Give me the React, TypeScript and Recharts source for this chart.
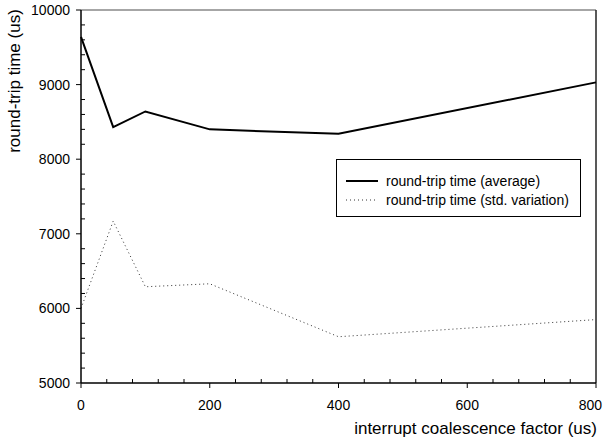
import { Legend, Line, LineChart, ReferenceLine, XAxis, YAxis } from "recharts"

// interrupt coalescence factor (us)
const factors = [0, 50, 100, 200, 400, 800]
// round-trip time (us)
const avgTime = [9640, 8430, 8640, 8400, 8340, 9030]
const stdTime = [6000, 7170, 6290, 6330, 5620, 5850]

const xTicks = [0, 40, 80, 120, 160, 200, 240, 280, 320, 360, 400, 440, 480, 520, 560, 600, 640, 680, 720, 760, 800]
const yTicks = [
  5000, 5200, 5400, 5600, 5800, 6000, 6200, 6400, 6600, 6800, 7000, 7200, 7400, 7600, 7800, 8000, 8200, 8400, 8600,
  8800, 9000, 9200, 9400, 9600, 9800, 10000,
]

const data = factors.map((f, i) => ({ factor: f, avg: avgTime[i], std: stdTime[i] }))

const FONT = "'Liberation Sans', Arial, sans-serif"

const XTick = (props: any) => {
  const { x, y, payload } = props
  const major = payload.value % 200 === 0
  if (!major) return <line x1={x} x2={x} y1={y} y2={y - 4} stroke="#000" />
  // last label sits against the page edge
  const last = payload.value === 800
  return (
    <g>
      <line x1={x} x2={x} y1={y} y2={y + 5} stroke="#000" />
      <text
        x={last ? 602 : x}
        y={y + 27}
        textAnchor={last ? "end" : "middle"}
        fontSize={14}
        fontFamily={FONT}
        fill="#000"
      >
        {payload.value}
      </text>
    </g>
  )
}

const YTick = (props: any) => {
  const { x, y, payload } = props
  const major = payload.value % 1000 === 0
  if (!major) return <line x1={x} x2={x + 4} y1={y} y2={y} stroke="#000" />
  return (
    <g>
      <line x1={x - 5} x2={x} y1={y} y2={y} stroke="#000" />
      <text x={x - 11} y={y + 5} textAnchor="end" fontSize={14} fontFamily={FONT} fill="#000">
        {payload.value}
      </text>
    </g>
  )
}

const LegendBox = (props: any) => {
  const { payload } = props
  return (
    <div
      style={{
        width: 243,
        height: 56,
        border: "1px solid #000",
        background: "#fff",
        fontFamily: FONT,
        fontSize: 14,
        boxSizing: "content-box",
      }}
    >
      <svg width={243} height={56}>
        {(payload || []).map((p: any, i: number) => (
          <g key={p.value}>
            <line
              x1={9}
              x2={41}
              y1={21 + i * 19}
              y2={21 + i * 19}
              stroke={i === 0 ? "#000" : "#333"}
              strokeWidth={i === 0 ? 2 : 1}
              strokeDasharray={i === 0 ? undefined : "1 3"}
            />
            <text x={49} y={26 + i * 19} fontSize={14} fontFamily={FONT} fill="#000">
              {p.value}
            </text>
          </g>
        ))}
      </svg>
    </div>
  )
}

export default function App() {
  return (
    <div style={{ position: "absolute", left: 0, top: 0, background: "#fff" }}>
      <LineChart width={603} height={442} data={data} margin={{ top: 10, right: 7, bottom: 0, left: 0 }}>
        <XAxis
          dataKey="factor"
          type="number"
          domain={[0, 800]}
          ticks={xTicks}
          interval={0}
          height={59}
          tickSize={0}
          tickMargin={0}
          tickLine={false}
          axisLine={{ stroke: "#000", strokeWidth: 1.5 }}
          tick={<XTick />}
          label={{
            content: () => (
              <text x={597} y={434} textAnchor="end" fontSize={17} fontFamily={FONT} fill="#000">
                interrupt coalescence factor (us)
              </text>
            ),
          }}
        />
        <YAxis
          type="number"
          domain={[5000, 10000]}
          ticks={yTicks}
          interval={0}
          width={81}
          tickSize={0}
          tickMargin={0}
          tickLine={false}
          axisLine={{ stroke: "#000", strokeWidth: 1.5 }}
          tick={<YTick />}
          label={{
            content: () => (
              <text
                x={20}
                y={81}
                transform="rotate(-90, 20, 81)"
                textAnchor="middle"
                fontSize={17}
                fontFamily={FONT}
                fill="#000"
              >
                round-trip time (us)
              </text>
            ),
          }}
        />
        <ReferenceLine y={10000} stroke="#888" strokeWidth={1.5} />
        <ReferenceLine x={800} stroke="#222" strokeWidth={1.5} />
        <Legend
          layout="horizontal"
          verticalAlign="middle"
          align="center"
          content={<LegendBox />}
          wrapperStyle={{ left: 336, top: 159, width: 245, height: 58 }}
        />
        <Line
          name="round-trip time (average)"
          dataKey="avg"
          type="linear"
          stroke="#000"
          strokeWidth={2}
          dot={false}
          isAnimationActive={false}
        />
        <Line
          name="round-trip time (std. variation)"
          dataKey="std"
          type="linear"
          stroke="#333"
          strokeWidth={1}
          strokeDasharray="1 3"
          dot={false}
          isAnimationActive={false}
        />
      </LineChart>
    </div>
  )
}
